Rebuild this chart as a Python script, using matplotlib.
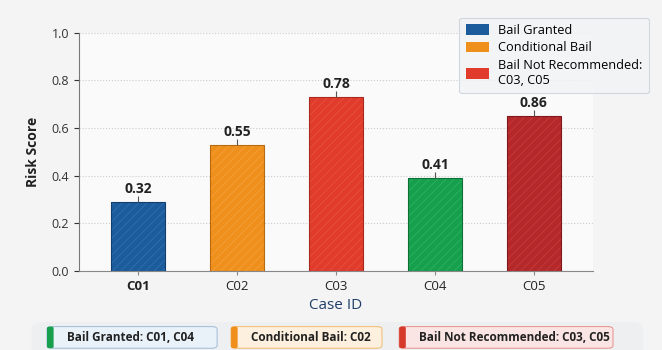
import numpy as np
import matplotlib
matplotlib.use('Agg')
import matplotlib.pyplot as plt
from matplotlib.patches import FancyBboxPatch, Patch

plt.rcParams['font.family'] = ['Open Sans', 'DejaVu Sans']
plt.rcParams['hatch.linewidth'] = 0.4

# data
cases = ['C01', 'C02', 'C03', 'C04', 'C05']
bar_heights = [0.29, 0.53, 0.73, 0.39, 0.65]
score_labels = ['0.32', '0.55', '0.78', '0.41', '0.86']
bar_colors = ['#1c5c9c', '#ef901c', '#e03b2b', '#16a04e', '#b5282a']
hatch_colors = ['#3a78b4', '#f6a64a', '#ea5a4a', '#3ab86a', '#c84646']
edge_colors = ['#123f6e', '#b86a10', '#a82a1e', '#0e7038', '#7e1a1c']

legend_labels = ['Bail Granted', 'Conditional Bail', 'Bail Not Recommended:\nC03, C05']
legend_colors = ['#1c5c9c', '#ef901c', '#e03b2b']

summary_texts = ['Bail Granted: C01, C04',
                 'Conditional Bail: C02',
                 'Bail Not Recommended: C03, C05']
summary_accent = ['#16a04e', '#ef901c', '#d63a2a']
summary_face = ['#e9f1f9', '#fdf0de', '#fbe5e4']
summary_edge = ['#a9c2dc', '#f0c27e', '#e89a96']

fig = plt.figure(figsize=(6.62, 3.5), dpi=100, facecolor='#f4f4f4')
ax = fig.add_axes([0.119, 0.226, 0.777, 0.681])
ax.set_facecolor('#fafafa')

x = np.arange(len(cases))
ax.bar(x, bar_heights, width=0.55, color=bar_colors, edgecolor=hatch_colors,
       hatch='////', linewidth=0, zorder=2)
ax.bar(x, bar_heights, width=0.55, color='none', edgecolor=edge_colors,
       linewidth=0.8, zorder=3)
ax.errorbar(x, bar_heights, yerr=[[0] * 5, [0.025] * 5], fmt='none',
            ecolor='#555555', elinewidth=0.8, linestyle=':', zorder=4)
for xi, h, lab in zip(x, bar_heights, score_labels):
    ax.text(xi, h + 0.025, lab, ha='center', va='bottom', fontsize=10,
            fontweight='bold', color='#222222')

ax.set_xlim(-0.6, 4.6)
ax.set_ylim(0, 1.0)
ax.set_yticks([0.0, 0.2, 0.4, 0.6, 0.8, 1.0])
ax.set_xticks(x)
ax.set_xticklabels(cases, fontsize=9.5, color='#222222')
ax.get_xticklabels()[0].set_fontweight('bold')
ax.tick_params(axis='y', labelsize=9, colors='#333333')
ax.tick_params(axis='x', length=3, color='#888888')
ax.grid(axis='y', linestyle=':', color='#cccccc', linewidth=0.8, zorder=0)
for s in ['top', 'right']:
    ax.spines[s].set_visible(False)
ax.spines['left'].set_color('#777777')
ax.spines['bottom'].set_color('#888888')
ax.set_ylabel('Risk Score', fontsize=10, fontweight='bold', color='#222222', labelpad=8)
ax.set_xlabel('Case ID', fontsize=11, color='#1f3f6a', labelpad=4)

handles = [Patch(facecolor=c, edgecolor='none') for c in legend_colors]
leg = fig.legend(handles, legend_labels, loc='upper right',
                 bbox_to_anchor=(0.99, 0.968), fontsize=9.2, frameon=True,
                 fancybox=True, facecolor='#f1f3f6', edgecolor='#c8d0da',
                 handlelength=1.8, handleheight=0.9, handletextpad=0.75,
                 borderpad=0.5, labelspacing=0.35)
leg.get_frame().set_linewidth(0.8)

# summary strip at the bottom
panel = FancyBboxPatch((0.048, -0.05), 0.924, 0.13, transform=fig.transFigure,
                       boxstyle='round,pad=0,rounding_size=0.02',
                       facecolor='#eeeff1', edgecolor='none', zorder=0)
fig.patches.append(panel)
box_x = [0.071, 0.349, 0.603]
box_w = [0.257, 0.228, 0.323]
for bx, bw, txt, ac, fc, ec in zip(box_x, box_w, summary_texts,
                                    summary_accent, summary_face, summary_edge):
    fig.patches.append(FancyBboxPatch((bx, 0.005), bw, 0.062, transform=fig.transFigure,
                                      boxstyle='round,pad=0,rounding_size=0.008',
                                      facecolor=fc, edgecolor=ec, linewidth=0.8, zorder=1))
    fig.patches.append(FancyBboxPatch((bx, 0.005), 0.01, 0.062, transform=fig.transFigure,
                                      boxstyle='round,pad=0,rounding_size=0.004',
                                      facecolor=ac, edgecolor='none', zorder=2))
    fig.text(bx + 0.03, 0.037, txt, fontsize=8.5, fontweight='bold',
             color='#222222', va='center', ha='left')

fig.savefig('out.png', dpi=100, facecolor=fig.get_facecolor())
